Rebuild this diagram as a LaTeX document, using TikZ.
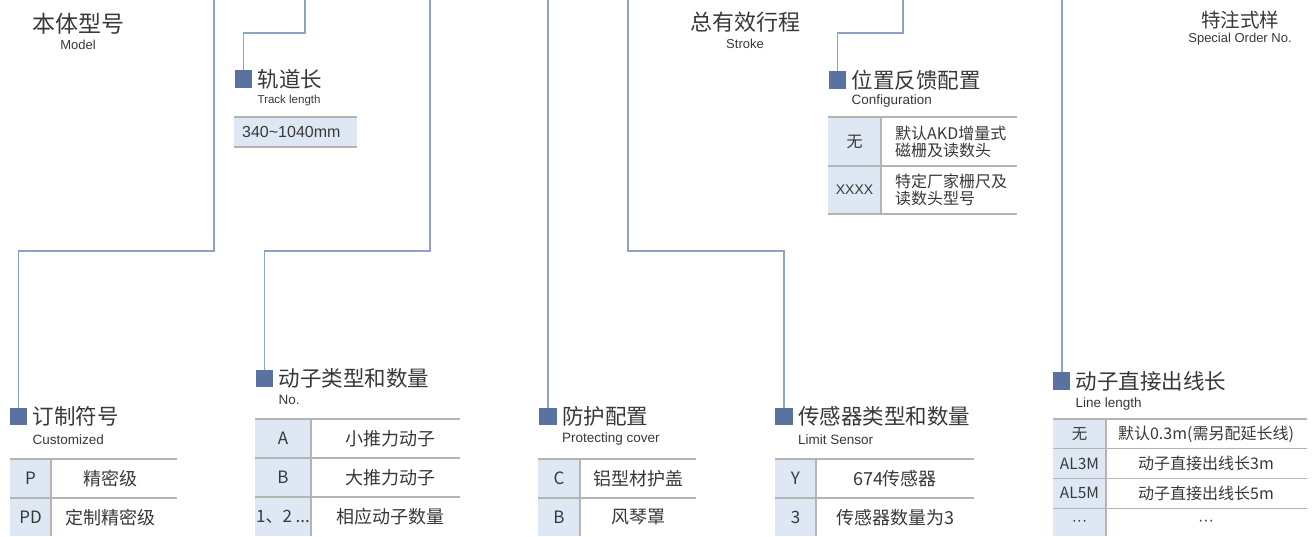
\documentclass[tikz,border=0pt]{standalone}
\usepackage{fontspec}
\setmainfont{Liberation Sans}
\newfontfamily\cjk{Noto Sans CJK SC}
\newfontfamily\lat{Liberation Sans}
\usetikzlibrary{positioning,calc}
\definecolor{lnblue}{HTML}{8EA2C8}
\definecolor{sqblue}{HTML}{5A72A0}
\definecolor{cellbg}{HTML}{DEE8F4}
\definecolor{rulegray}{HTML}{B4B4B4}
\definecolor{txt}{HTML}{383838}

\begin{document}
\begin{tikzpicture}[x=1pt,y=-1pt,
  link/.style={draw=lnblue,line width=1.4pt},
  tag/.style={fill=sqblue,minimum size=17.5pt,inner sep=0pt},
  head/.style={font=\cjk\fontsize{21.5}{24}\selectfont,text=txt,anchor=west,inner sep=0pt},
  sub/.style={font=\fontsize{13.5}{15}\selectfont,text=txt,anchor=west,inner sep=0pt},
  toptitle/.style={font=\cjk\fontsize{22}{24}\selectfont,text=txt,inner sep=0pt},
  topsub/.style={font=\fontsize{13}{15}\selectfont,text=txt,inner sep=0pt},
  rule/.style={draw=rulegray,line width=1.3pt},
  code/.style={font=\cjk\fontsize{17}{19}\selectfont,text=txt,inner sep=0pt},
  val/.style={font=\cjk\fontsize{18}{20}\selectfont,text=txt,inner sep=0pt}]
\useasboundingbox (0,0) rectangle (1314,536);

% top labels
\node[toptitle,font=\cjk\fontsize{23}{25}\selectfont] (hModel) at (78,24) {本体型号};
\node[topsub] (sModel) at (78,45) {Model};
\node[toptitle] (hStroke) at (745,22) {总有效行程};
\node[topsub] (sStroke) at (745,44) {Stroke};
\node[toptitle,font=\cjk\fontsize{19.5}{22}\selectfont] (hSpecial) at (1240,20) {特注式样};
\node[topsub] (sSpecial) at (1240,39) {Special Order No.};

% squares
\node[tag] (qCust)  at (18.5,416.5) {};
\node[tag] (qTrack) at (243.5,79) {};
\node[tag] (qNo)    at (264.5,378.5) {};
\node[tag] (qProt)  at (548,416.5) {};
\node[tag] (qSens)  at (784,416.5) {};
\node[tag] (qConf)  at (837.5,80) {};
\node[tag] (qLine)  at (1061.5,381) {};

% titles and subtitles
\node[head,right=5pt of qCust]  (hCust)  {订制符号};
\node[sub] (sCust)  at ([yshift=-23pt]hCust.west)  {Customized};
\node[head,right=5pt of qTrack] (hTrack) {轨道长};
\node[sub,font=\fontsize{11.5}{13}\selectfont] (sTrack) at ([yshift=-22pt]hTrack.west) {Track length};
\node[head,right=5pt of qNo]    (hNo)    {动子类型和数量};
\node[sub] (sNo)    at ([yshift=-21pt]hNo.west)    {No.};
\node[head,right=5pt of qProt]  (hProt)  {防护配置};
\node[sub] (sProt)  at ([yshift=-23pt]hProt.west)  {Protecting cover};
\node[head,right=5pt of qSens]  (hSens)  {传感器类型和数量};
\node[sub] (sSens)  at ([yshift=-23pt]hSens.west)  {Limit Sensor};
\node[head,right=5pt of qConf]  (hConf)  {位置反馈配置};
\node[sub] (sConf)  at ([yshift=-21pt]hConf.west)  {Configuration};
\node[head,right=5pt of qLine]  (hLine)  {动子直接出线长};
\node[sub] (sLine)  at ([yshift=-23pt]hLine.west)  {Line length};

% connectors
\coordinate (lo) at (0,251);
\coordinate (hi) at (0,33);
\coordinate (tA) at (214,0);
\coordinate (tB) at (305,0);
\coordinate (tC) at (430,0);
\coordinate (tD) at (548,0);
\coordinate (tE) at (628,0);
\coordinate (tF) at (903,0);
\coordinate (tG) at (1062,0);
\draw[link] (tA) -- (tA |- lo) -| (qCust.north);
\draw[link] (tB) -- (tB |- hi) -| (qTrack.north);
\draw[link] (tC) -- (tC |- lo) -| (qNo.north);
\draw[link] (tD) -- (tD |- qProt.north);
\draw[link] (tE) -- (tE |- lo) -| (qSens.north);
\draw[link] (tF) -- (tF |- hi) -| (qConf.north);
\draw[link] (tG) -- (tG |- qLine.north);

% track length box
\fill[cellbg] (234,117) rectangle (357,147);
\draw[rule] (234,117) -- (357,117) (234,147) -- (357,147);
\node[anchor=west,inner sep=0pt,text=txt,font=\fontsize{16}{18}\selectfont] (vTrack) at (242,132) {340\textasciitilde1040mm};

% customized table
\fill[cellbg] (10,459) rectangle (51,536);
\foreach \y in {459,498} \draw[rule] (10,\y) -- (177,\y);
\draw[rule] (51,459) -- (51,536);
\foreach \c/\v [count=\i] in {P/精密级,PD/定制精密级} {
  \node[code] (kCust\i) at (30.5,439.5+39*\i) {\c};
  \node[val]  (vCust\i) at (110,439.5+39*\i) {\v};
}

% mover table
\fill[cellbg] (255,419) rectangle (311,536);
\foreach \y in {419,458,497} \draw[rule] (255,\y) -- (460,\y);
\draw[rule] (311,419) -- (311,536);
\foreach \c/\v [count=\i] in {A/小推力动子,B/大推力动子,1、2 {.}{.}{.}/相应动子数量} {
  \node[code] (kNo\i) at (283,399.5+39*\i) {\c};
  \node[val]  (vNo\i) at (390,399.5+39*\i) {\v};
}

% cover table
\fill[cellbg] (538,459) rectangle (580,536);
\foreach \y in {459,498} \draw[rule] (538,\y) -- (696,\y);
\draw[rule] (580,459) -- (580,536);
\foreach \c/\v [count=\i] in {C/铝型材护盖,B/风琴罩} {
  \node[code] (kProt\i) at (559,439.5+39*\i) {\c};
  \node[val]  (vProt\i) at (638,439.5+39*\i) {\v};
}

% sensor table
\fill[cellbg] (775,459) rectangle (816,536);
\foreach \y in {459,498} \draw[rule] (775,\y) -- (974,\y);
\draw[rule] (816,459) -- (816,536);
\foreach \c/\v [count=\i] in {Y/674传感器,3/传感器数量为3} {
  \node[code] (kSens\i) at (795.5,439.5+39*\i) {\c};
  \node[val]  (vSens\i) at (895,439.5+39*\i) {\v};
}

% configuration table
\fill[cellbg] (828,117) rectangle (881,214);
\foreach \y in {117,166,214} \draw[rule] (828,\y) -- (1017,\y);
\draw[rule] (881,117) -- (881,214);
\node[code,font=\cjk\fontsize{16}{18}\selectfont] (kConf1) at (854.5,141.5) {无};
\node[code,font=\lat\fontsize{14}{16}\selectfont] (kConf2) at (854.5,190) {XXXX};
\node[val,font=\cjk\fontsize{16}{17}\selectfont,align=left,anchor=west] (vConf1) at (895,141.5) {默认AKD增量式\\磁栅及读数头};
\node[val,font=\cjk\fontsize{16}{17}\selectfont,align=left,anchor=west] (vConf2) at (895,190) {特定厂家栅尺及\\读数头型号};

% line length table
\fill[cellbg] (1053,419) rectangle (1106,536);
\foreach \y in {419,448.75,478.5,508.25} \draw[rule] (1053,\y) -- (1307,\y);
\draw[rule] (1106,419) -- (1106,536);
\foreach \c/\v [count=\i] in {无/默认0.3m(需另配延长线),AL3M/动子直接出线长3m,AL5M/动子直接出线长5m,{\lat ···}/{\lat ···}} {
  \node[code,font=\cjk\fontsize{15.5}{17}\selectfont] (kLine\i) at (1079.5,404.1+29.75*\i) {\c};
  \node[val,font=\cjk\fontsize{16}{18}\selectfont]   (vLine\i) at (1206,404.1+29.75*\i) {\v};
}
\end{tikzpicture}
\end{document}
